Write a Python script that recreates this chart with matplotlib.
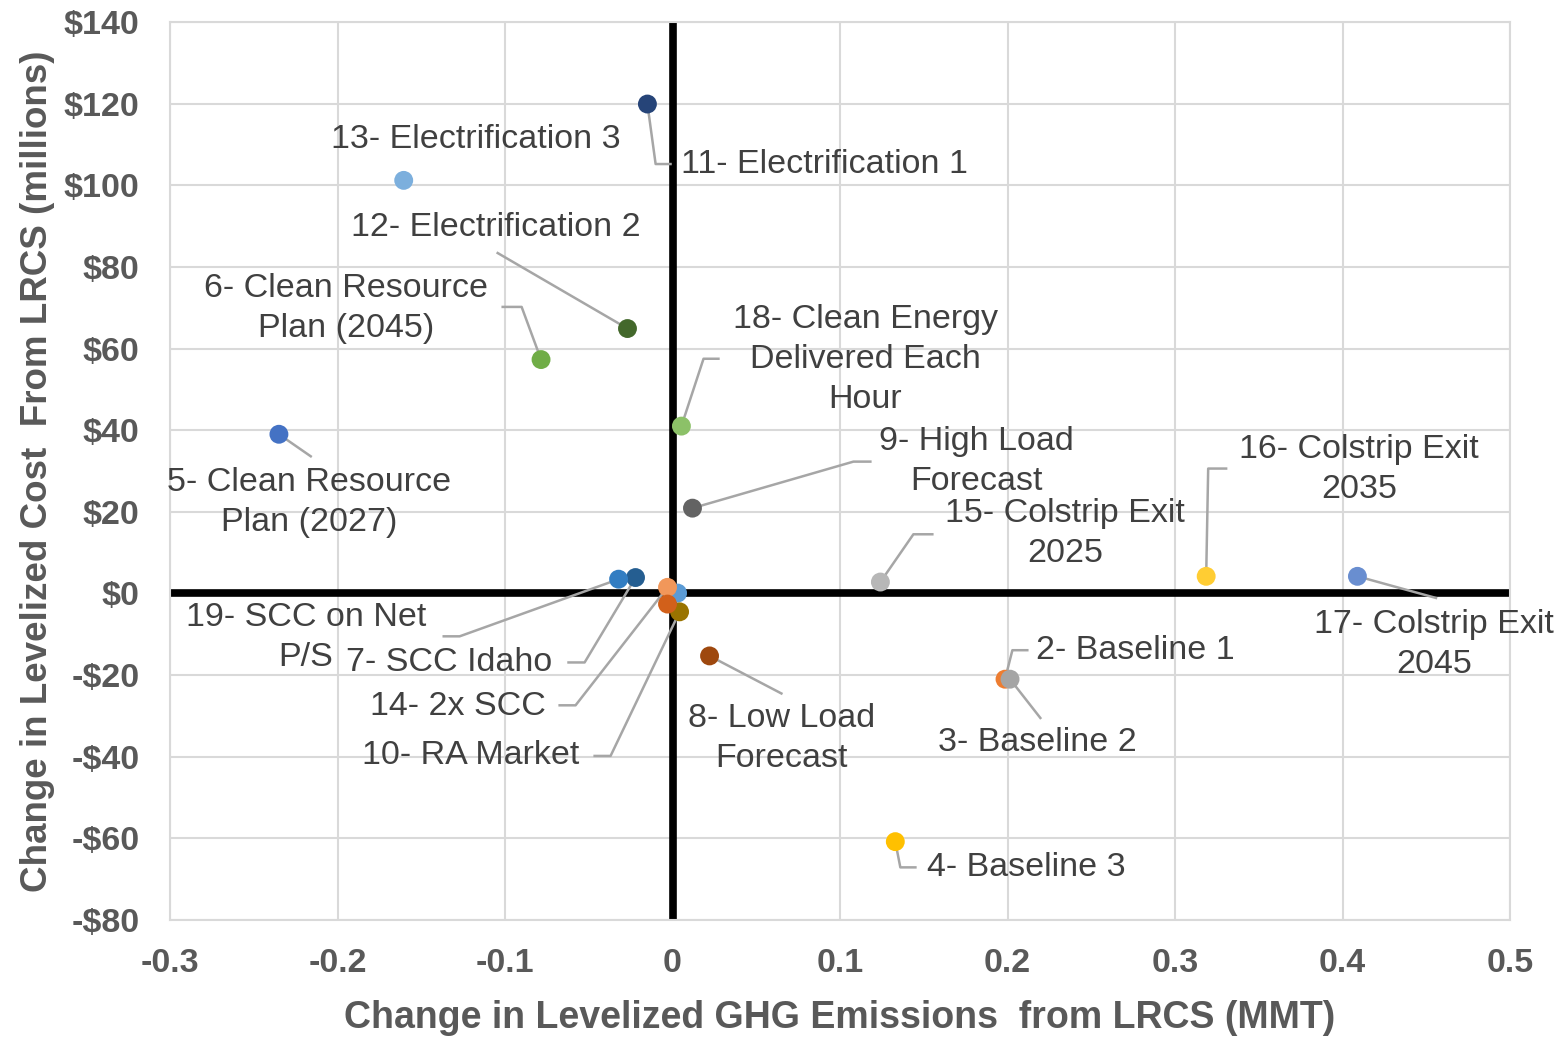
import matplotlib
matplotlib.use("Agg")
import matplotlib.pyplot as plt

plt.rcParams['font.family'] = ['Liberation Sans', 'DejaVu Sans']

# scenario data: change in levelized GHG emissions (MMT) and cost ($ millions)
labels = ["1", "2- Baseline 1", "3- Baseline 2", "4- Baseline 3",
          "5- Clean Resource\nPlan (2027)", "6- Clean Resource\nPlan (2045)",
          "7- SCC Idaho", "8- Low Load\nForecast", "9- High Load\nForecast",
          "10- RA Market", "11- Electrification 1", "12- Electrification 2",
          "13- Electrification 3", "14- 2x SCC", "15- Colstrip Exit\n2025",
          "16- Colstrip Exit\n2035", "17- Colstrip Exit\n2045",
          "18- Clean Energy\nDelivered Each\nHour", "19- SCC on Net\nP/S", "20"]
ghg = [0.003, 0.1985, 0.2015, 0.133, -0.235, -0.0785, -0.0221, 0.0221, 0.0119,
       0.0042, -0.015, -0.0269, -0.1605, -0.003, 0.1241, 0.3186, 0.4089,
       0.0053, -0.0322, -0.003]
cost = [0.1, -21.0, -21.0, -60.8, 39.0, 57.3, 3.9, -15.3, 20.9, -4.5, 119.9,
        64.9, 101.2, 1.5, 2.8, 4.2, 4.2, 41.0, 3.5, -2.6]
colors = ["#5B9BD5", "#ED7D31", "#A5A5A5", "#FFC000", "#4472C4", "#70AD47",
          "#255E91", "#9E480E", "#636363", "#997300", "#264478", "#43682B",
          "#7CAFDD", "#F1975A", "#B7B7B7", "#FFCD33", "#698ED0", "#8CC168",
          "#327DC2", "#D2601A"]

# label placement (data coords): text anchor, alignment, leader path
label_layout = {
    "2- Baseline 1": ((0.2763, -13.9), 'center', [(0.2029, -13.9), (0.2118, -13.9)]),
    "3- Baseline 2": ((0.2178, -36.5), 'center', [(0.2196, -30.5)]),
    "4- Baseline 3": ((0.2112, -67.1), 'center', [(0.136, -67.1), (0.145, -67.1)]),
    "5- Clean Resource\nPlan (2027)": ((-0.2172, 22.4), 'center', [(-0.216, 33.6)]),
    "6- Clean Resource\nPlan (2045)": ((-0.195, 69.8), 'center', [(-0.0901, 70.2), (-0.1014, 70.2)]),
    "7- SCC Idaho": ((-0.1331, -16.8), 'center', [(-0.0525, -16.9), (-0.0621, -16.9)]),
    "8- Low Load\nForecast": ((0.065, -35.6), 'center', [(0.065, -24.5)]),
    "9- High Load\nForecast": ((0.1814, 32.3), 'center', [(0.108, 32.3), (0.1181, 32.3)]),
    "10- RA Market": ((-0.1205, -39.8), 'center', [(-0.037, -39.8), (-0.0465, -39.8)]),
    "11- Electrification 1": ((0.0048, 105.2), 'left', [(-0.0101, 105.2), (-0.0012, 105.2)]),
    "12- Electrification 2": ((-0.1056, 89.6), 'center', [(-0.1044, 83.4)]),
    "13- Electrification 3": ((-0.1175, 111.1), 'center', []),
    "14- 2x SCC": ((-0.1283, -27.6), 'center', [(-0.0579, -27.4), (-0.0674, -27.4)]),
    "15- Colstrip Exit\n2025": ((0.2345, 14.7), 'center', [(0.1438, 14.5), (0.1551, 14.5)]),
    "16- Colstrip Exit\n2035": ((0.4099, 30.4), 'center', [(0.3198, 30.6), (0.3305, 30.6)]),
    "17- Colstrip Exit\n2045": ((0.4547, -12.6), 'center', [(0.4558, -1.1)]),
    "18- Clean Energy\nDelivered Each\nHour": ((0.1152, 57.3), 'center', [(0.0185, 57.5), (0.0274, 57.5)]),
    "19- SCC on Net\nP/S": ((-0.2190, -10.7), 'center', [(-0.1271, -10.5), (-0.1366, -10.5)]),
}

xticks = [-0.3, -0.2, -0.1, 0, 0.1, 0.2, 0.3, 0.4, 0.5]
xticklabels = ["-0.3", "-0.2", "-0.1", "0", "0.1", "0.2", "0.3", "0.4", "0.5"]
yticks = [-80, -60, -40, -20, 0, 20, 40, 60, 80, 100, 120, 140]
yticklabels = ["-$80", "-$60", "-$40", "-$20", "$0", "$20", "$40", "$60",
               "$80", "$100", "$120", "$140"]

fig = plt.figure(figsize=(15.63, 10.37), dpi=100)
ax = fig.add_axes([0.1088, 0.1128, 0.8573, 0.866])

ax.set_xlim(-0.3, 0.5)
ax.set_ylim(-80, 140)
ax.set_xticks(xticks)
ax.set_xticklabels(xticklabels)
ax.set_yticks(yticks)
ax.set_yticklabels(yticklabels)
ax.grid(True, color='#D9D9D9', linewidth=1.5, zorder=0)
ax.set_axisbelow(True)
for sp in ax.spines.values():
    sp.set_color('#D9D9D9')
    sp.set_linewidth(1.5)
ax.tick_params(length=0, labelsize=24.5, labelcolor='#595959')
ax.tick_params(axis='x', pad=20)
ax.tick_params(axis='y', pad=22)
for t in ax.get_xticklabels() + ax.get_yticklabels():
    t.set_fontweight('bold')

ax.axhline(0, color='black', linewidth=5.5, zorder=1)
ax.axvline(0, color='black', linewidth=5.5, zorder=1)

# leader lines
for i, lab in enumerate(labels):
    if lab in label_layout:
        pos, ha, path = label_layout[lab]
        if path:
            xs = [ghg[i]] + [p[0] for p in path]
            ys = [cost[i]] + [p[1] for p in path]
            ax.plot(xs, ys, color='#A6A6A6', linewidth=1.8, zorder=2)

for i in range(len(labels)):
    ax.scatter(ghg[i], cost[i], s=185, color=colors[i], edgecolors='none', zorder=3)

# data labels, one text per line so the lines sit like Excel's
line_gap = 28.8  # points
for i, lab in enumerate(labels):
    if lab in label_layout:
        pos, ha, path = label_layout[lab]
        lines = lab.split('\n')
        n = len(lines)
        for k, line in enumerate(lines):
            off = ((n - 1) / 2 - k) * line_gap
            ax.annotate(line, xy=pos, xytext=(0, off), textcoords='offset points',
                        ha=ha, va='center', fontsize=24.5, color='#404040', zorder=4)

ax.set_xlabel("Change in Levelized GHG Emissions  from LRCS (MMT)", fontsize=27,
              fontweight='bold', color='#595959', labelpad=15)
ax.set_ylabel("Change in Levelized Cost  From LRCS (millions)", fontsize=26.5,
              fontweight='bold', color='#595959', labelpad=6)

fig.savefig("out.png", dpi=100)
